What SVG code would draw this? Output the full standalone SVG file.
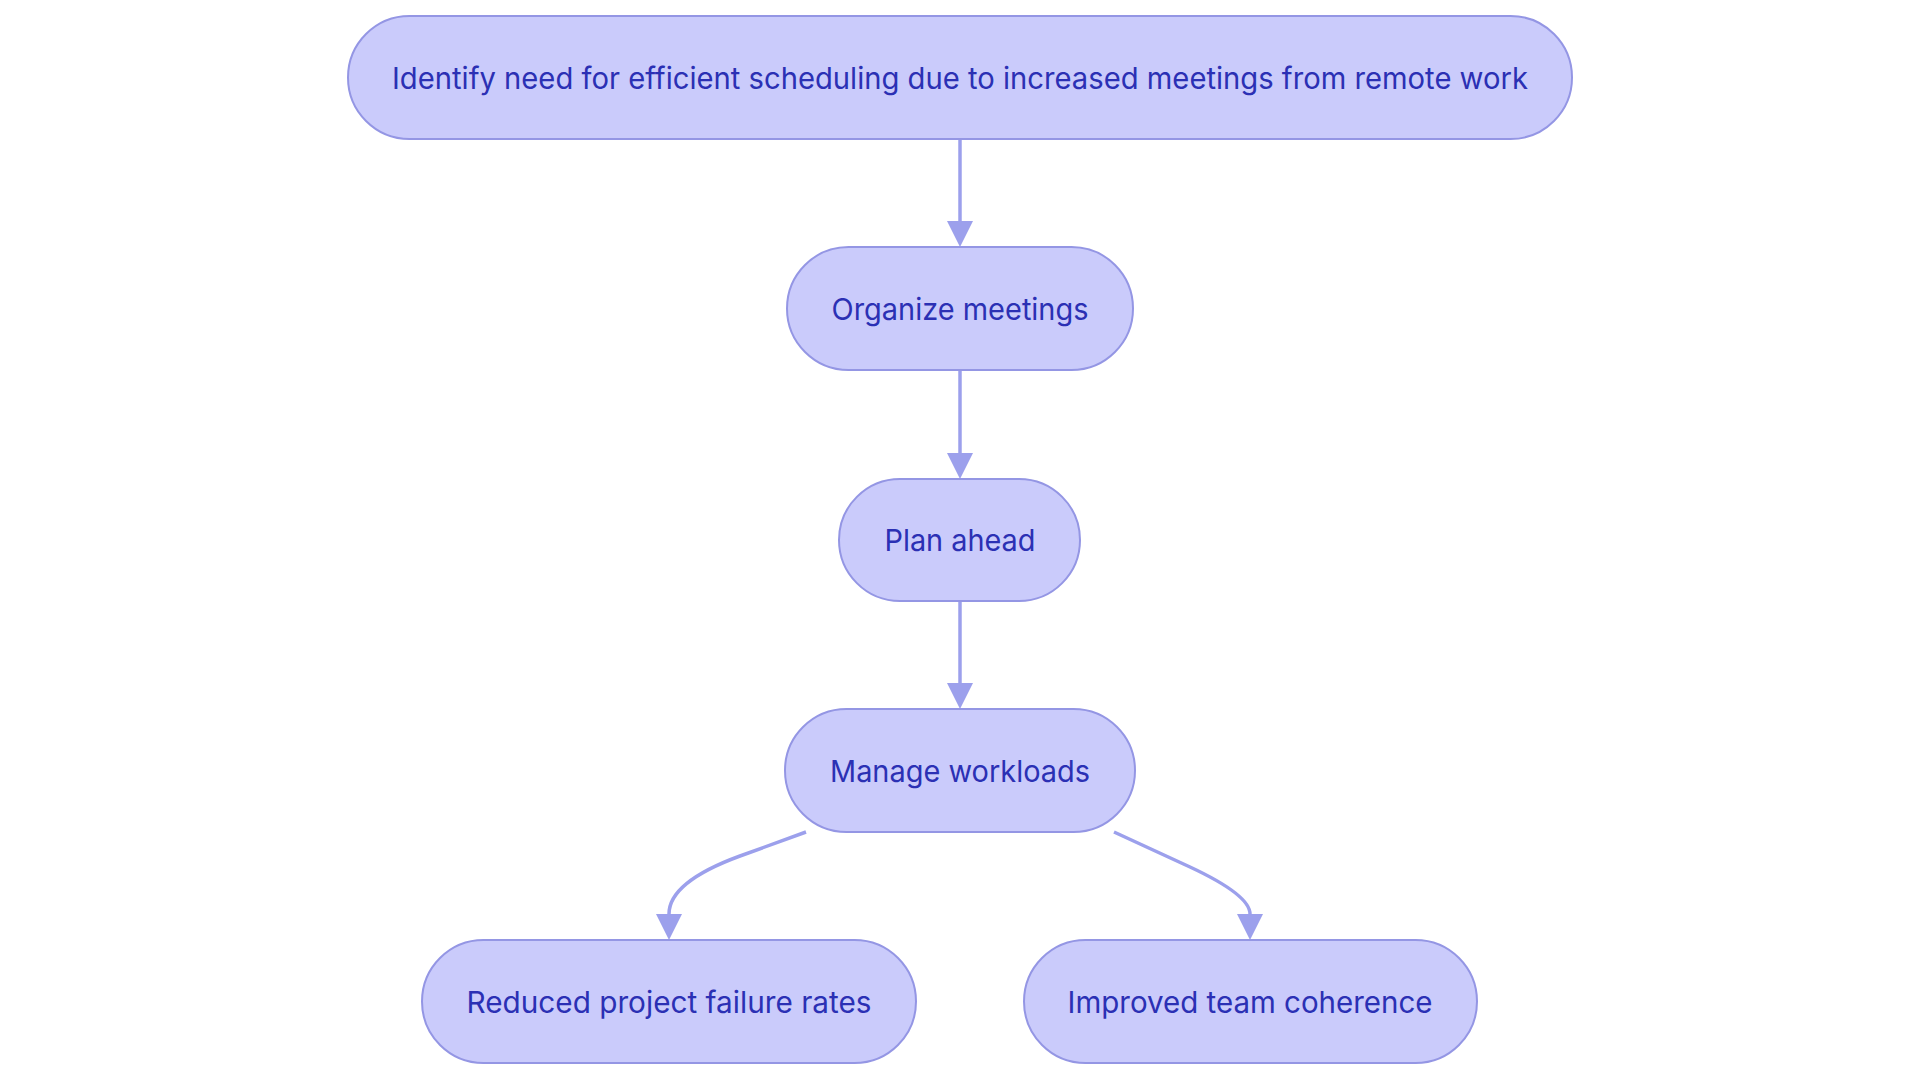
<svg xmlns="http://www.w3.org/2000/svg" width="1920" height="1080" viewBox="0 0 1920 1080">
<style>
.node rect{fill:#cacbfb;stroke:#9496e4;stroke-width:2}
.node text{font-family:Inter,"Noto Sans",sans-serif;font-size:30px;fill:#2b30b4;text-anchor:middle}
.edge{fill:none;stroke:#9ca0ec;stroke-width:3.5}
</style>
<defs>
<marker id="arr" viewBox="0 0 10 10" refX="0" refY="5" markerWidth="27" markerHeight="26" markerUnits="userSpaceOnUse" orient="auto">
<path d="M0,0 L10,5 L0,10 z" fill="#9ca0ec"/>
</marker>
</defs>
<rect width="1920" height="1080" fill="#ffffff"/>
<g id="connectors">
<path class="edge" d="M960,139 L960,221" marker-end="url(#arr)"/>
<path class="edge" d="M960,370 L960,453" marker-end="url(#arr)"/>
<path class="edge" d="M960,601 L960,683" marker-end="url(#arr)"/>
<path class="edge" d="M806,832 L740,856 Q669,882 669,914" marker-end="url(#arr)"/>
<path class="edge" d="M1114,832 L1190,867 Q1250,895 1250,914" marker-end="url(#arr)"/>
</g>
<g id="n1" class="node"><rect x="348" y="16" width="1224" height="123" rx="61.5"/><text x="960" y="89" textLength="1136" lengthAdjust="spacingAndGlyphs">Identify need for efficient scheduling due to increased meetings from remote work</text></g>
<g id="n2" class="node"><rect x="787" y="247" width="346" height="123" rx="61.5"/><text x="960" y="320" textLength="257" lengthAdjust="spacingAndGlyphs">Organize meetings</text></g>
<g id="n3" class="node"><rect x="839" y="479" width="241" height="122" rx="61"/><text x="960" y="551" textLength="151" lengthAdjust="spacingAndGlyphs">Plan ahead</text></g>
<g id="n4" class="node"><rect x="785" y="709" width="350" height="123" rx="61.5"/><text x="960" y="782" textLength="260" lengthAdjust="spacingAndGlyphs">Manage workloads</text></g>
<g id="n5" class="node"><rect x="422" y="940" width="494" height="123" rx="61.5"/><text x="669" y="1013" textLength="405" lengthAdjust="spacingAndGlyphs">Reduced project failure rates</text></g>
<g id="n6" class="node"><rect x="1024" y="940" width="453" height="123" rx="61.5"/><text x="1250" y="1013" textLength="365" lengthAdjust="spacingAndGlyphs">Improved team coherence</text></g>
</svg>
